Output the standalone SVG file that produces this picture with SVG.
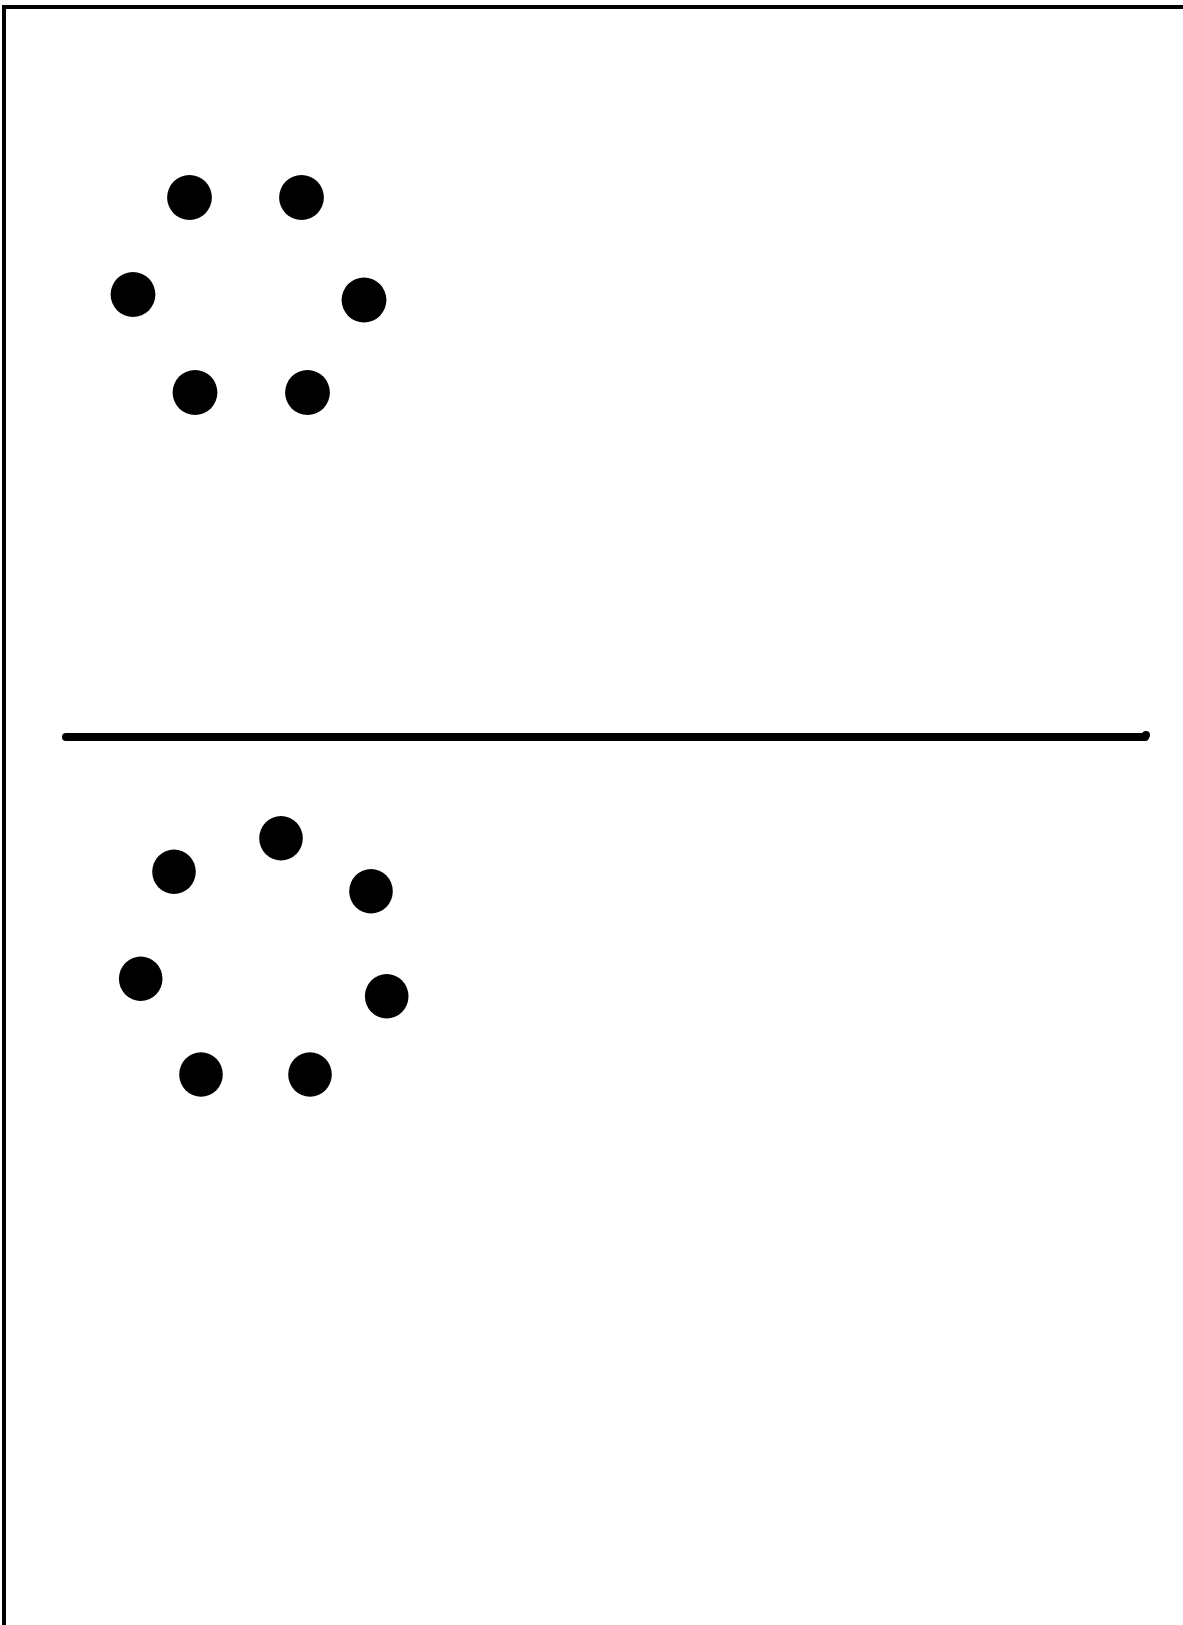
<svg xmlns="http://www.w3.org/2000/svg" width="1183" height="1625" viewBox="0 0 1183 1625">
<style>
.dot{fill:#000}
.frame{fill:none;stroke:#000;stroke-width:4}
.divider{stroke:#000;stroke-width:8;stroke-linecap:round}
</style>
<rect width="1183" height="1625" fill="#fff"/>
<rect class="frame" x="4" y="7" width="1200" height="1700"/>
<g id="connectors">
<line class="divider" x1="66" y1="737" x2="1145" y2="737"/>
<circle class="dot" cx="1146" cy="735" r="4"/>
</g>
<g id="top-group">
<ellipse id="t1" class="dot" cx="189.5" cy="197.5" rx="22.4" ry="22.5"/>
<ellipse id="t2" class="dot" cx="301.5" cy="197.5" rx="22.4" ry="22.5"/>
<ellipse id="t3" class="dot" cx="133" cy="294.5" rx="22.4" ry="22.5"/>
<ellipse id="t4" class="dot" cx="364" cy="300" rx="22.4" ry="22.5"/>
<ellipse id="t5" class="dot" cx="195" cy="392.5" rx="22.4" ry="22.5"/>
<ellipse id="t6" class="dot" cx="307.5" cy="392.5" rx="22.4" ry="22.5"/>
</g>
<g id="bottom-group">
<ellipse id="b1" class="dot" cx="174" cy="871.7" rx="21.8" ry="22.2"/>
<ellipse id="b2" class="dot" cx="281" cy="838.3" rx="21.8" ry="22.2"/>
<ellipse id="b3" class="dot" cx="371" cy="891.3" rx="21.8" ry="22.2"/>
<ellipse id="b4" class="dot" cx="140.7" cy="978.7" rx="21.8" ry="22.2"/>
<ellipse id="b5" class="dot" cx="386.7" cy="996.2" rx="21.8" ry="22.2"/>
<ellipse id="b6" class="dot" cx="201" cy="1074.5" rx="21.8" ry="22.2"/>
<ellipse id="b7" class="dot" cx="310" cy="1074.5" rx="21.8" ry="22.2"/>
</g>
</svg>
